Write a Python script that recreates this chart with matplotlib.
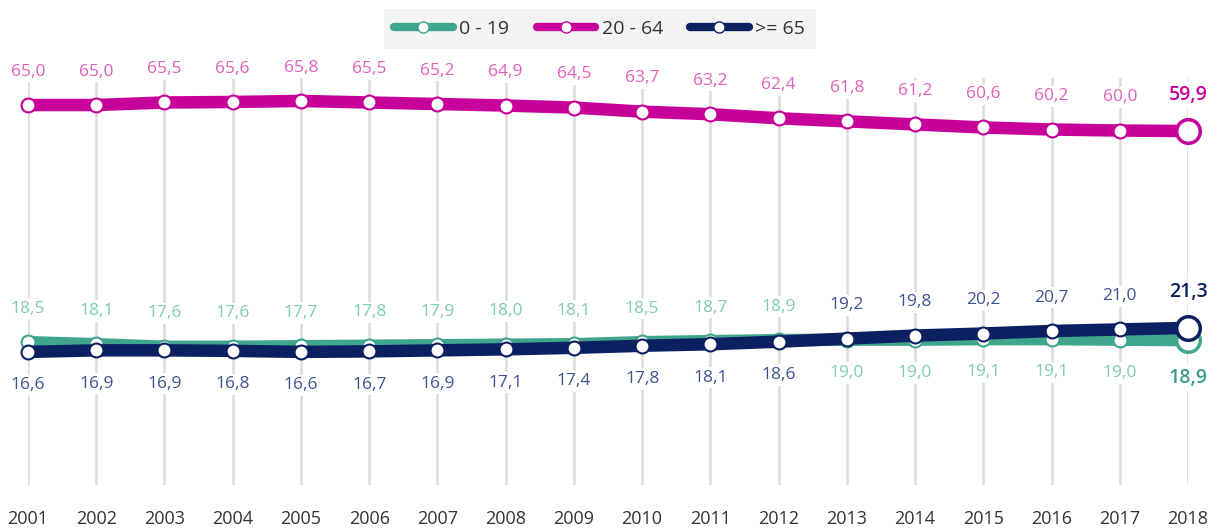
import matplotlib
matplotlib.use("Agg")
import matplotlib.pyplot as plt
from matplotlib.lines import Line2D

plt.rcParams['font.family'] = ['Open Sans', 'DejaVu Sans']

years = list(range(2001, 2019))
young = [18.5, 18.1, 17.6, 17.6, 17.7, 17.8, 17.9, 18.0, 18.1, 18.5, 18.7, 18.9,
         19.0, 19.0, 19.1, 19.1, 19.0, 18.9]
middle = [65.0, 65.0, 65.5, 65.6, 65.8, 65.5, 65.2, 64.9, 64.5, 63.7, 63.2, 62.4,
          61.8, 61.2, 60.6, 60.2, 60.0, 59.9]
old = [16.6, 16.9, 16.9, 16.8, 16.6, 16.7, 16.9, 17.1, 17.4, 17.8, 18.1, 18.6,
       19.2, 19.8, 20.2, 20.7, 21.0, 21.3]
names = ['0 - 19', '20 - 64', '>= 65']

# (line colour, label colour, last label colour)
styles = [('#3fa58d', '#7fcbb3', '#3a9f86'),
          ('#c8009a', '#e060bd', '#c8009a'),
          ('#0b2060', '#3d5290', '#0b2060')]

# label above (+1) or below (-1) the point
young_pos = [1] * 12 + [-1] * 6
middle_pos = [1] * 18
old_pos = [-1] * 12 + [1] * 6

fig = plt.figure(figsize=(12.22, 5.30), dpi=100)
ax = fig.add_axes([28 / 1222, 45 / 530, 1160 / 1222, 407 / 530])
ax.set_xlim(2001, 2018)
ax.set_ylim(-9.5, 70.3)
ax.set_xticks(years)
ax.set_xticklabels([str(y) for y in years], fontsize=13, color='#333333')
ax.tick_params(axis='x', length=0, pad=18)
ax.set_yticks([])
for s in ax.spines.values():
    s.set_visible(False)
ax.grid(axis='x', color='#dcdcdc', linewidth=1.8, zorder=0)
ax.set_axisbelow(True)

series = [(young, young_pos, 0), (middle, middle_pos, 1), (old, old_pos, 2)]
for vals, pos, k in series:
    lc, tc, tlast = styles[k]
    z = 3 + k
    ax.plot(years, vals, color=lc, linewidth=9, solid_capstyle='butt', zorder=z,
            clip_on=False)
    ax.plot(years[:-1], vals[:-1], linestyle='none', marker='o', markersize=10,
            markerfacecolor='white', markeredgecolor=lc, markeredgewidth=1.5,
            zorder=z, clip_on=False)
    ax.plot(years[-1:], vals[-1:], linestyle='none', marker='o', markersize=17,
            markerfacecolor='white', markeredgecolor=lc, markeredgewidth=2.5,
            zorder=z, clip_on=False)
    for i, (x, v) in enumerate(zip(years, vals)):
        last = i == len(years) - 1
        off = 24 if pos[i] > 0 else -24
        if last:
            off = 26 if pos[i] > 0 else -27
        ax.annotate(f"{v:.1f}".replace('.', ','), (x, v), xytext=(0, off),
                    textcoords='offset points', ha='center', va='center',
                    fontsize=14 if last else 12.5,
                    color=tlast if last else tc,
                    fontweight='semibold' if last else 'normal',
                    bbox=dict(boxstyle='square,pad=0.15', fc='white', ec='none'),
                    zorder=2, annotation_clip=False)

handles = [Line2D([0], [0], color=styles[k][0], linewidth=6, solid_capstyle='round',
                  marker='o', markersize=8, markerfacecolor='white',
                  markeredgecolor=styles[k][0])
           for k in range(3)]
leg = fig.legend(handles, names, loc='upper center', bbox_to_anchor=(0.4908, 0.99),
                 ncol=3, frameon=True, fontsize=14, handlelength=3.0,
                 handletextpad=0.35, columnspacing=1.4, borderpad=0.55,
                 borderaxespad=0.2, fancybox=False, numpoints=1)
leg.get_frame().set_facecolor('#f1f1f1')
leg.get_frame().set_edgecolor('none')
for t in leg.get_texts():
    t.set_color('#333333')

fig.savefig('out.png', dpi=100)
